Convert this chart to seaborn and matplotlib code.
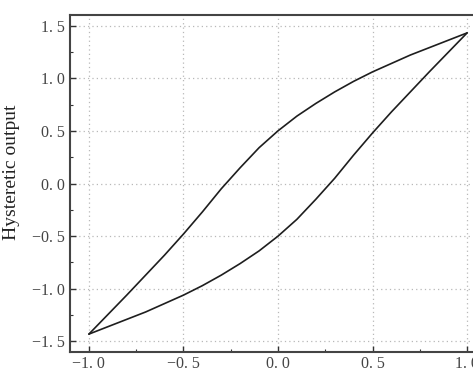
import numpy as np
import pandas as pd
import seaborn as sns
import matplotlib
matplotlib.use("Agg")
import matplotlib.pyplot as plt
from matplotlib.ticker import MultipleLocator, FuncFormatter

# Data (input vs hysteretic output)
x_vals = [-1.0, -0.9, -0.8, -0.7, -0.6, -0.5, -0.4, -0.3, -0.2, -0.1, 0.0,
          0.1, 0.2, 0.3, 0.4, 0.5, 0.6, 0.7, 0.8, 0.9, 1.0]
upper_branch = [-1.43, -1.245, -1.06, -0.87, -0.68, -0.48, -0.27, -0.05, 0.15, 0.34, 0.50,
                0.64, 0.76, 0.87, 0.97, 1.06, 1.14, 1.22, 1.29, 1.36, 1.43]
lower_branch = [-1.43, -1.36, -1.29, -1.22, -1.14, -1.06, -0.97, -0.87, -0.76, -0.64, -0.50,
                -0.34, -0.15, 0.05, 0.27, 0.48, 0.68, 0.87, 1.06, 1.245, 1.43]
x_ticks = [-1.0, -0.5, 0.0, 0.5, 1.0]
y_ticks = [-1.5, -1.0, -0.5, 0.0, 0.5, 1.0, 1.5]
y_label = "Hysteretic output"

sns.set_theme(style="white")
plt.rcParams['font.family'] = ['Liberation Serif', 'DejaVu Serif']

fig = plt.figure(figsize=(4.73, 3.74), dpi=100)
ax = fig.add_axes([70/473, 22/374, (486-70)/473, (352-15)/374])

df_up = pd.DataFrame({"x": x_vals, "y": upper_branch})
df_lo = pd.DataFrame({"x": x_vals, "y": lower_branch})
sns.lineplot(data=df_up, x="x", y="y", sort=False, color="#1e1e1e", lw=1.2, ax=ax)
sns.lineplot(data=df_lo, x="x", y="y", sort=False, color="#1e1e1e", lw=1.2, ax=ax)

ax.set_xlim(-1.1, 1.1)
ax.set_ylim(-1.6, 1.6)
ax.set_xticks(x_ticks)
ax.set_yticks(y_ticks)
ax.xaxis.set_minor_locator(MultipleLocator(0.25))
ax.yaxis.set_minor_locator(MultipleLocator(0.25))

def fmt(v, pos):
    s = f"{abs(v):.1f}".replace(".", ". ")
    return ("\u2212" + s) if v < -1e-9 else s

ax.xaxis.set_major_formatter(FuncFormatter(fmt))
ax.yaxis.set_major_formatter(FuncFormatter(fmt))

ax.grid(True, which="major", linestyle=(0, (1, 2.5)), color="#b8b8b8", lw=0.9)
ax.tick_params(which="major", direction="in", length=4, width=1, color="#333333",
               labelsize=11.5, labelcolor="#444444", pad=4)
ax.tick_params(axis="x", which="major", pad=3)
ax.tick_params(which="minor", direction="in", length=2, width=0.8, color="#333333")
ax.tick_params(axis="x", bottom=True, which="both")
ax.tick_params(axis="y", left=True, which="both")

for side in ["left", "bottom", "top", "right"]:
    ax.spines[side].set_color("#444444")
    ax.spines[side].set_linewidth(1.5)

ax.set_xlabel("")
ax.set_ylabel(y_label, fontsize=14, color="#222222")
ax.yaxis.set_label_coords(-0.12, 0.534)

fig.savefig("out.png", dpi=100)
